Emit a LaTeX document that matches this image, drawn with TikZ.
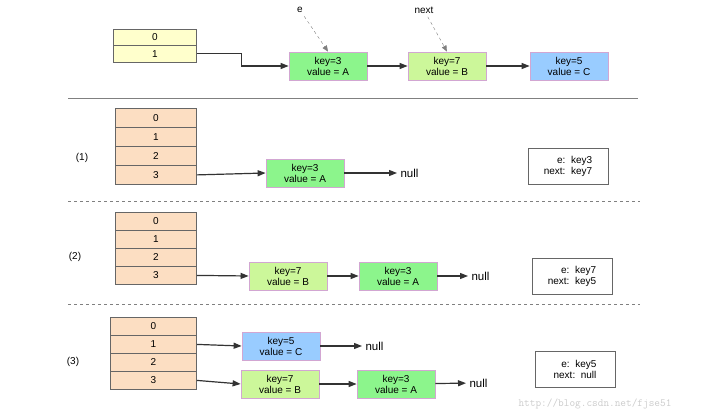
\documentclass[tikz,border=0pt]{standalone}
\usepackage{fontspec}
\setmainfont{Liberation Sans}
\usetikzlibrary{arrows.meta}
\definecolor{cy}{HTML}{FFFFCC}
\definecolor{co}{HTML}{FCDEC2}
\definecolor{cg}{HTML}{8CF58C}
\definecolor{cl}{HTML}{CCF79A}
\definecolor{cb}{HTML}{99CCFF}
\begin{document}
\begin{tikzpicture}[x=1pt,y=-1pt,font=\fontsize{10}{11}\selectfont,
 cell/.style={draw=black!60,line width=0.8pt,minimum width=#1,minimum height=16,inner sep=0,anchor=north west},
 ent/.style={draw=violet!35,line width=0.8pt,minimum width=78,minimum height=28,inner sep=0,align=center},
 arr/.style={-{Triangle[length=8pt,width=6pt]},line width=1.2pt,draw=black!80},
 info/.style={draw=black!60,line width=0.8pt,minimum width=80,minimum height=36,align=right,inner sep=2pt},
 sep/.style={draw=black!50,line width=0.8pt}]
\useasboundingbox (0,0) rectangle (704,417);
% top
\node[cell=83,fill=cy] (t0) at (113,29) {0};
\node[cell=83,fill=cy,minimum height=17] (t1) at (113,45) {1};
\node[ent,fill=cg] (a3) at (328,66) {key=3\\value = A};
\node[ent,fill=cl] (a7) at (447,66) {key=7\\value = B};
\node[ent,fill=cb] (a5) at (569,66) {key=5\\value = C};
\node (e) at (300,10) {e};
\node (nx) at (424,10) {next};
\draw[arr] (t1.east) -- ++(45,0) |- (a3.west);
\draw[arr] (a3) -- (a7);
\draw[arr] (a7) -- (a5);
\draw[-{Triangle[length=6pt,width=5pt]},dashed,draw=black!50] (e) -- (a3.north);
\draw[-{Triangle[length=6pt,width=5pt]},dashed,draw=black!50] (nx) -- (a7.north);
\draw[sep] (68,98) coordinate (s0) -- (638,98) coordinate (s1);
% (1)
\foreach \i/\y in {0/108,1/127,2/146,3/165} \node[cell=81,fill=co,minimum height=19] (p\i) at (115,\y) {\i};
\node (l1) at (82,158) {(1)};
\node[ent,fill=cg] (b3) at (305,173) {key=3\\value = A};
\node[anchor=west,font=\fontsize{11.5}{12}\selectfont] (n1) at (397,173) {null};
\draw[arr] (p3.east) -- (b3.west);
\draw[arr] (b3) -- (n1);
\node[info] (i1) at (568,166) {e:\ \ key3\\next:\ \ key7};
\draw[sep,dashed] (68,201) -- (640,201);
% (2)
\foreach \i/\y in {0/212,1/230,2/248,3/266} \node[cell=81,fill=co,minimum height=18] (q\i) at (115,\y) {\i};
\node (l2) at (75,257) {(2)};
\node[ent,fill=cl] (c7) at (288,276) {key=7\\value = B};
\node[ent,fill=cg] (c3) at (398,276) {key=3\\value = A};
\node[anchor=west,font=\fontsize{11.5}{12}\selectfont] (n2) at (468,276) {null};
\draw[arr] (q3.east) -- (c7.west);
\draw[arr] (c7) -- (c3);
\draw[arr] (c3) -- (n2);
\node[info] (i2) at (572,276) {e:\ \ key7\\next:\ \ key5};
\draw[sep,dashed] (68,304) -- (640,304);
% (3)
\foreach \i/\y in {0/317,1/335,2/353,3/371} \node[cell=86,fill=co,minimum height=18] (r\i) at (110,\y) {\i};
\node (l3) at (73,362) {(3)};
\node[ent,fill=cb] (d5) at (281,346) {key=5\\value = C};
\node[anchor=west,font=\fontsize{11.5}{12}\selectfont] (n3) at (362,346) {null};
\node[ent,fill=cl] (d7) at (280,384) {key=7\\value = B};
\node[ent,fill=cg] (d3) at (396,384) {key=3\\value = A};
\node[anchor=west,font=\fontsize{11.5}{12}\selectfont] (n4) at (466,383) {null};
\draw[arr] (r1.east) -- (d5.west);
\draw[arr] (d5) -- (n3);
\draw[arr] (r3.east) -- (d7.west);
\draw[arr] (d7) -- (d3);
\draw[arr] (d3) -- (n4);
\node[info] (i3) at (575,369) {e:\ \ key5\\next:\ \ null};
\node[text=black!20,font=\ttfamily\fontsize{11}{12}\selectfont] (wm) at (595,404) {http://blog.csdn.net/fjse51};
\end{tikzpicture}
\end{document}
